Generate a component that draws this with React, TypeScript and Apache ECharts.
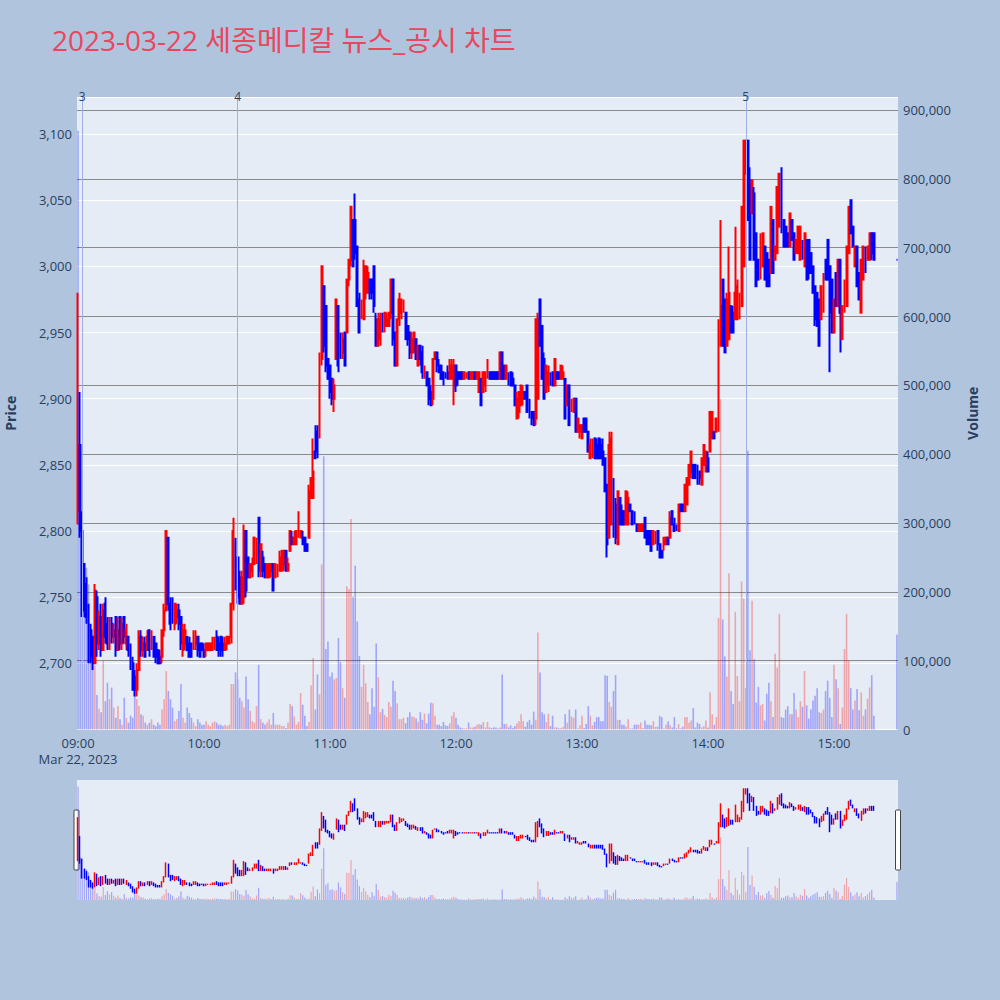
import { useEffect, useRef } from 'react';
import * as echarts from 'echarts';

const TITLE = '2023-03-22 세종메디칼 뉴스_공시 차트';
const DATE_LABEL = 'Mar 22, 2023';
const HOUR_LABELS = ['09:00', '10:00', '11:00', '12:00', '13:00', '14:00', '15:00'];
const EVENT_TIMES = ['09:02', '10:16', '14:18'];
const EVENT_LABELS = ['3', '4', '5'];

// one candle per minute, 09:00 .. 15:19
const opens = [
  2815,2865,2800,2775,2760,2740,2725,2720,2700,2750,
  2715,2735,2710,2745,2730,2715,2730,2720,2735,2710,
  2735,2715,2735,2715,2720,2715,2700,2690,2680,2695,
  2720,2710,2715,2710,2725,2710,2720,2715,2710,2705,
  2705,2725,2740,2795,2745,2740,2730,2735,2740,2735,
  2710,2715,2720,2715,2715,2710,2715,2720,2715,2715,
  2710,2710,2710,2710,2710,2715,2720,2715,2720,2715,
  2710,2715,2715,2720,2745,2795,2780,2765,2745,2750,
  2800,2780,2765,2770,2775,2775,2810,2770,2780,2775,
  2765,2765,2770,2775,2765,2765,2770,2770,2775,2785,
  2770,2785,2795,2790,2790,2795,2795,2795,2795,2790,
  2795,2825,2825,2860,2875,2875,2930,2985,2970,2930,
  2925,2915,2900,2930,2970,2950,2935,2950,2950,2990,
  3005,3035,3035,3015,2975,2960,2960,2980,2980,2990,
  2990,3000,2960,2940,2945,2965,2955,2955,2955,2965,
  2990,2950,2925,2960,2965,2965,2965,2955,2950,2935,
  2935,2945,2925,2940,2935,2920,2920,2915,2905,2900,
  2930,2935,2925,2925,2920,2920,2920,2915,2915,2910,
  2925,2920,2920,2920,2915,2915,2920,2915,2915,2920,
  2915,2905,2915,2905,2910,2915,2920,2920,2920,2920,
  2920,2915,2935,2925,2915,2920,2920,2915,2910,2885,
  2890,2895,2900,2905,2910,2900,2890,2890,2885,2900,
  2975,2955,2930,2905,2910,2920,2920,2910,2920,2920,
  2915,2915,2915,2895,2910,2890,2890,2900,2875,2875,
  2870,2885,2885,2875,2855,2855,2870,2865,2870,2865,
  2860,2855,2835,2795,2805,2840,2820,2790,2825,2815,
  2815,2805,2805,2820,2815,2810,2805,2800,2800,2800,
  2810,2800,2800,2800,2790,2790,2800,2790,2785,2790,
  2790,2795,2795,2815,2805,2805,2800,2820,2820,2815,
  2820,2835,2845,2850,2850,2850,2845,2835,2850,2845,
  2855,2860,2870,2875,2875,2875,2940,2990,2975,2940,
  2945,2970,2965,2960,2960,2960,2970,3000,3070,3095,
  3065,3040,3055,3025,3005,2990,3000,3015,3010,3005,
  2995,3035,3005,3010,3030,3075,3035,3030,3025,3015,
  3035,3025,3010,3010,3005,3020,3000,3020,3020,3010,
  3000,2985,2980,2975,2960,2965,3005,3020,3000,2990,
  2950,2995,2970,3005,2945,2965,2970,3010,3050,3030,
  3000,3015,2995,2965,2990,3015,3005,3005,3025,3025,
];

const closes = [
  2865,2800,2745,2740,2735,2710,2705,2700,2755,2715,
  2735,2710,2740,2720,2715,2730,2720,2725,2710,2725,
  2715,2730,2720,2725,2710,2700,2680,2680,2695,2720,
  2710,2715,2705,2720,2710,2720,2705,2705,2700,2700,
  2725,2740,2800,2745,2730,2730,2745,2740,2730,2715,
  2725,2725,2710,2705,2705,2720,2720,2710,2705,2710,
  2705,2715,2715,2715,2715,2720,2710,2710,2710,2710,
  2715,2720,2720,2745,2800,2760,2750,2745,2765,2800,
  2755,2765,2775,2775,2795,2790,2770,2790,2770,2765,
  2775,2775,2775,2755,2775,2775,2780,2785,2785,2770,
  2775,2800,2790,2795,2800,2800,2800,2790,2785,2785,
  2830,2840,2845,2855,2860,2930,3000,2940,2925,2915,
  2905,2900,2910,2975,2925,2930,2945,2925,2990,3005,
  3045,3000,3010,2970,2950,2975,3000,3000,2995,2980,
  2980,2970,2940,2960,2960,2955,2965,2960,2965,2990,
  2945,2925,2960,2975,2975,2970,2945,2945,2935,2945,
  2950,2930,2940,2930,2920,2925,2910,2900,2895,2930,
  2935,2925,2920,2915,2915,2915,2915,2925,2925,2925,
  2910,2915,2915,2915,2920,2920,2915,2920,2920,2915,
  2920,2920,2895,2920,2920,2930,2915,2915,2915,2915,
  2915,2935,2915,2915,2925,2910,2910,2910,2895,2900,
  2905,2910,2905,2900,2890,2885,2885,2880,2960,2960,
  2940,2915,2900,2925,2920,2910,2910,2930,2915,2915,
  2925,2920,2885,2910,2880,2900,2900,2875,2885,2880,
  2880,2875,2875,2860,2865,2865,2855,2855,2855,2855,
  2850,2830,2790,2865,2870,2795,2795,2830,2805,2805,
  2805,2830,2825,2815,2805,2805,2800,2805,2805,2805,
  2795,2790,2790,2785,2800,2800,2790,2780,2780,2795,
  2795,2790,2810,2805,2800,2800,2820,2815,2815,2835,
  2840,2850,2860,2840,2840,2835,2840,2855,2865,2860,
  2845,2890,2890,2870,2885,2960,2970,2940,2935,2975,
  2980,2950,2950,2980,2985,2975,3045,3095,3095,3035,
  3005,3065,3005,2985,2990,3025,3025,2990,2985,2985,
  3045,2995,3015,3060,3070,3025,3015,3015,3015,3040,
  3020,3005,3020,3030,3030,3005,3025,2990,2995,2995,
  2980,2960,2955,2940,2985,2995,2990,2990,2965,2950,
  2975,2970,3005,2965,2970,2990,3015,3045,3025,3015,
  3015,2985,2975,3005,3015,2995,3015,3025,3010,3005,
];

const highs = [
  2980,2905,2815,2775,2765,2745,2730,2720,2760,2755,
  2740,2745,2745,2750,2735,2735,2735,2730,2735,2735,
  2735,2735,2735,2730,2720,2715,2705,2695,2700,2725,
  2725,2720,2720,2725,2725,2725,2720,2715,2710,2710,
  2725,2745,2800,2795,2750,2750,2745,2745,2745,2735,
  2730,2730,2720,2720,2715,2725,2725,2720,2715,2715,
  2715,2715,2715,2715,2720,2720,2725,2720,2720,2720,
  2720,2720,2720,2745,2810,2795,2780,2770,2770,2805,
  2800,2780,2775,2780,2795,2795,2810,2790,2785,2775,
  2775,2775,2775,2775,2775,2775,2785,2785,2785,2785,
  2780,2800,2800,2800,2800,2815,2800,2800,2795,2790,
  2835,2840,2870,2880,2880,2935,3000,2985,2970,2930,
  2925,2915,2915,2975,2970,2950,2950,2950,2990,3005,
  3045,3035,3055,3015,2980,2975,3005,3000,3000,2990,
  2990,3000,2965,2965,2965,2965,2965,2965,2965,2990,
  2990,2950,2960,2980,2975,2975,2965,2955,2950,2950,
  2950,2945,2940,2940,2940,2925,2920,2915,2910,2930,
  2935,2935,2930,2925,2920,2920,2925,2930,2930,2930,
  2925,2920,2920,2920,2920,2920,2920,2920,2920,2920,
  2920,2920,2915,2920,2920,2930,2920,2920,2920,2920,
  2920,2935,2935,2925,2925,2920,2920,2920,2910,2905,
  2905,2910,2910,2905,2910,2900,2890,2890,2960,2965,
  2975,2955,2935,2925,2925,2920,2920,2930,2920,2920,
  2925,2925,2915,2910,2910,2900,2900,2900,2885,2880,
  2880,2885,2885,2875,2870,2870,2870,2870,2870,2870,
  2870,2855,2835,2875,2875,2840,2825,2830,2825,2820,
  2815,2830,2830,2820,2815,2815,2805,2805,2805,2805,
  2810,2800,2800,2800,2800,2800,2800,2790,2785,2795,
  2795,2795,2815,2815,2810,2805,2820,2820,2820,2835,
  2840,2850,2860,2850,2850,2850,2845,2855,2865,2860,
  2860,2890,2890,2875,2885,2960,3035,2990,2975,2980,
  3015,2970,2970,3030,2990,2980,3045,3095,3095,3095,
  3075,3065,3060,3025,3005,3025,3025,3015,3010,3005,
  3045,3035,3015,3060,3070,3075,3035,3030,3025,3040,
  3035,3025,3020,3030,3030,3020,3025,3020,3020,3010,
  3000,2985,2980,2975,2985,2995,3005,3020,3000,2990,
  2975,2995,3005,3005,2970,2990,3015,3045,3050,3030,
  3015,3015,2995,3005,3015,3015,3015,3025,3025,3025,
];

const lows = [
  2805,2795,2735,2735,2730,2700,2700,2695,2700,2705,
  2710,2705,2710,2715,2710,2710,2715,2715,2705,2710,
  2710,2710,2715,2710,2705,2695,2680,2675,2675,2695,
  2705,2705,2705,2710,2705,2710,2705,2700,2700,2700,
  2700,2720,2740,2740,2725,2730,2725,2730,2725,2710,
  2705,2710,2710,2705,2705,2710,2710,2705,2705,2710,
  2705,2705,2710,2710,2710,2710,2710,2705,2705,2705,
  2710,2710,2715,2715,2740,2755,2745,2745,2745,2745,
  2750,2765,2765,2765,2775,2775,2765,2765,2765,2765,
  2765,2765,2765,2755,2765,2765,2770,2770,2770,2770,
  2770,2785,2790,2790,2790,2795,2795,2790,2785,2785,
  2795,2825,2825,2855,2855,2870,2925,2935,2920,2915,
  2900,2895,2890,2930,2920,2930,2930,2925,2950,2985,
  3000,3000,3005,2970,2950,2960,2960,2975,2980,2975,
  2975,2965,2940,2940,2940,2950,2950,2955,2955,2960,
  2940,2925,2925,2955,2960,2965,2945,2940,2930,2930,
  2935,2930,2925,2925,2915,2915,2910,2895,2895,2895,
  2930,2920,2920,2915,2910,2915,2915,2915,2915,2895,
  2905,2910,2915,2915,2915,2915,2915,2915,2915,2915,
  2915,2905,2895,2905,2905,2915,2915,2915,2915,2915,
  2915,2915,2915,2915,2915,2910,2910,2910,2895,2885,
  2885,2895,2895,2900,2890,2885,2880,2880,2880,2900,
  2940,2915,2900,2905,2905,2910,2910,2910,2915,2915,
  2915,2915,2885,2895,2880,2890,2890,2875,2875,2870,
  2870,2875,2875,2860,2855,2855,2855,2855,2855,2855,
  2850,2830,2780,2795,2805,2795,2790,2790,2805,2805,
  2805,2805,2805,2815,2805,2805,2800,2800,2800,2800,
  2795,2790,2790,2785,2790,2790,2785,2780,2780,2785,
  2790,2790,2795,2805,2800,2800,2800,2815,2815,2815,
  2820,2835,2840,2840,2840,2835,2835,2835,2850,2845,
  2845,2860,2870,2870,2875,2875,2940,2940,2935,2940,
  2945,2950,2950,2960,2960,2960,2970,3000,3070,3035,
  3005,3040,3005,2985,2990,2990,3000,2990,2985,2985,
  2995,2995,3005,3010,3030,3025,3015,3015,3015,3015,
  3020,3005,3010,3010,3005,3005,3000,2990,2990,2995,
  2980,2955,2955,2940,2960,2965,2990,2990,2920,2950,
  2950,2970,2970,2935,2945,2965,2970,3010,3025,3015,
  3000,2985,2975,2965,2990,2995,3005,3005,3005,3005,
];

const volumes = [
  870000,330000,315000,235000,235000,211000,152000,92000,93000,50000,
  30000,25000,100000,41000,68000,44000,61000,32000,17000,34000,
  15000,7000,46000,17000,10000,20000,17000,66000,44000,34000,
  22000,20000,10000,7000,10000,15000,7000,5000,10000,7000,
  29000,44000,85000,56000,44000,32000,12000,15000,27000,66000,
  17000,10000,32000,24000,17000,10000,5000,15000,10000,7000,
  7000,12000,7000,5000,10000,12000,10000,7000,7000,5000,
  7000,5000,7000,66000,66000,83000,73000,46000,41000,32000,
  77000,44000,27000,12000,10000,34000,94000,15000,10000,7000,
  10000,15000,7000,24000,7000,7000,7000,5000,5000,2000,
  10000,37000,34000,19000,7000,11000,53000,36000,20000,5000,
  11000,64000,104000,29000,80000,51000,240000,397000,117000,128000,
  77000,83000,73000,75000,133000,98000,60000,46000,208000,204000,
  306000,193000,238000,157000,107000,62000,94000,67000,40000,22000,
  60000,33000,125000,76000,25000,30000,21000,18000,40000,33000,
  71000,56000,38000,15000,15000,17000,9000,18000,25000,19000,
  18000,16000,11000,25000,14000,23000,9000,23000,39000,38000,
  20000,7000,7000,5000,11000,6000,5000,9000,20000,25000,
  17000,7000,3000,2000,1500,1500,10000,3000,3000,4000,
  7000,8000,7000,11000,3000,11000,3000,2000,3000,3000,
  1500,3000,80000,8000,8000,3000,6000,2000,5000,9000,
  12000,22000,12000,4000,11000,14000,7000,26000,14000,141000,
  83000,25000,22000,11000,23000,5000,20000,3000,3000,1500,
  2000,4000,22000,10000,29000,19000,17000,29000,1500,6000,
  20000,2000,8000,34000,20000,6000,11000,18000,18000,12000,
  12000,79000,78000,40000,33000,56000,79000,14000,14000,7000,
  7000,4000,15000,1500,1500,7000,7000,7000,10000,2000,
  13000,7000,7000,6000,12000,4000,4000,20000,18000,1500,
  7000,12000,6000,3000,18000,1500,8000,1500,4000,18000,
  18000,10000,13000,31000,3000,10000,8000,3000,5000,13000,
  3000,54000,22000,7000,18000,162000,480000,160000,106000,77000,
  227000,56000,37000,171000,78000,41000,215000,190000,60000,405000,
  115000,187000,102000,39000,62000,35000,37000,13000,52000,68000,
  41000,18000,110000,90000,168000,18000,17000,29000,34000,22000,
  22000,53000,29000,18000,41000,33000,85000,35000,16000,29000,
  42000,49000,60000,25000,24000,29000,56000,71000,46000,18000,
  94000,73000,60000,8000,32000,117000,168000,100000,60000,29000,
  42000,59000,28000,54000,20000,29000,45000,61000,79000,20000,
];

// closing auction single print at 15:30
const auctionTime = '15:30';
const auctionPrice = 3005;
const auctionVolume = 138000;

const PRICE_MIN = 2650;
const PRICE_MAX = 3128;
const VOL_MAX = 919000;

const UP = '#ff0000';
const DOWN = '#0000ff';
const UP_VOL = 'rgba(255,0,0,0.3)';
const DOWN_VOL = 'rgba(0,0,255,0.3)';
const FONT = '"Open Sans", "Noto Sans CJK KR", sans-serif';
const AXIS_TEXT = '#2a3f5f';

function buildTimes(): string[] {
  const out: string[] = [];
  for (let t = 9 * 60; t <= 15 * 60 + 30; t++) {
    const h = Math.floor(t / 60);
    const m = t % 60;
    out.push(`${String(h).padStart(2, '0')}:${String(m).padStart(2, '0')}`);
  }
  return out;
}

export default function App() {
  const ref = useRef<HTMLDivElement>(null);

  useEffect(() => {
    document.body.style.margin = '0';
    if (!ref.current) return;
    const chart = echarts.init(ref.current, undefined, { renderer: 'svg' });

    const times = buildTimes();
    const candleData: any[] = [];
    const volData: any[] = [];
    times.forEach((t, i) => {
      if (i < opens.length) {
        const o = opens[i], c = closes[i];
        const h = Math.max(highs[i], o, c);
        const l = Math.min(lows[i], o, c);
        candleData.push([o, c, l, h]);
        const up = i > 0 && c >= o;
        volData.push({ value: volumes[i], itemStyle: { color: up ? UP_VOL : DOWN_VOL } });
      } else if (t === auctionTime) {
        candleData.push({
          value: [auctionPrice, auctionPrice, auctionPrice, auctionPrice],
          itemStyle: { color: DOWN, color0: DOWN, borderColor: DOWN, borderColor0: DOWN },
        });
        volData.push({ value: auctionVolume, itemStyle: { color: DOWN_VOL } });
      } else {
        candleData.push('-');
        volData.push('-');
      }
    });

    const gridLeft = 77;
    const gridRight = 102;
    const gridRightX = 1000 - gridRight;

    const option: any = {
      animation: false,
      backgroundColor: '#b0c4de',
      textStyle: { fontFamily: FONT },
      title: {
        text: TITLE,
        left: 47,
        top: 21,
        textStyle: { color: '#e8475f', fontSize: 28, fontWeight: 'normal', fontFamily: FONT },
      },
      grid: [
        {
          left: gridLeft, right: gridRight, top: 97, height: 632.5,
          containLabel: false, outerBoundsMode: 'none',
          show: true, backgroundColor: '#e5ecf6', borderWidth: 0,
        },
        {
          left: gridLeft, right: gridRight, top: 780, height: 120,
          containLabel: false, outerBoundsMode: 'none',
          show: true, backgroundColor: '#e5ecf6', borderWidth: 0,
        },
      ],
      xAxis: [
        {
          type: 'category',
          gridIndex: 0,
          data: times,
          boundaryGap: true,
          axisLine: { show: false },
          axisTick: { show: false },
          splitLine: { show: false },
          axisLabel: {
            interval: (_i: number, v: string) => HOUR_LABELS.includes(v),
            formatter: (v: string, i: number) => (i === 0 ? `${v}\n${DATE_LABEL}` : v),
            color: AXIS_TEXT,
            fontSize: 13,
            margin: 5,
            lineHeight: 16,
            fontFamily: FONT,
          },
        },
        { type: 'category', gridIndex: 1, data: times, boundaryGap: true, show: false },
      ],
      yAxis: [
        {
          type: 'value',
          gridIndex: 0,
          position: 'left',
          min: PRICE_MIN,
          max: PRICE_MAX,
          interval: 50,
          name: 'Price',
          nameLocation: 'middle',
          nameGap: 60,
          nameRotate: 90,
          nameTextStyle: { color: AXIS_TEXT, fontSize: 14, fontWeight: 'bold', fontFamily: FONT },
          axisLine: { show: false },
          axisTick: { show: false },
          axisLabel: {
            formatter: (v: number) => v.toLocaleString('en-US'),
            showMinLabel: false,
            showMaxLabel: false,
            color: AXIS_TEXT,
            fontSize: 13,
            margin: 5,
          },
          splitLine: { show: true, lineStyle: { color: '#ffffff', width: 1 } },
        },
        {
          type: 'value',
          gridIndex: 0,
          position: 'right',
          min: 0,
          max: VOL_MAX,
          interval: 100000,
          name: 'Volume',
          nameLocation: 'middle',
          nameGap: 67,
          nameRotate: 90,
          nameTextStyle: { color: AXIS_TEXT, fontSize: 14, fontWeight: 'bold', fontFamily: FONT },
          axisLine: { show: false },
          axisTick: { show: false },
          axisLabel: {
            formatter: (v: number) => v.toLocaleString('en-US'),
            showMaxLabel: false,
            color: AXIS_TEXT,
            fontSize: 13,
            margin: 5,
          },
          splitLine: { show: true, showMinLine: false, showMaxLine: false, lineStyle: { color: '#8a8a8a', width: 1 } },
        },
        { type: 'value', gridIndex: 1, min: PRICE_MIN, max: PRICE_MAX, show: false, splitLine: { show: false } },
        { type: 'value', gridIndex: 1, min: 0, max: VOL_MAX, show: false, splitLine: { show: false } },
      ],
      series: [
        {
          type: 'bar',
          name: 'Volume',
          xAxisIndex: 0,
          yAxisIndex: 1,
          data: volData,
          barWidth: 1.6,
          silent: true,
        },
        {
          type: 'candlestick',
          name: 'Price',
          xAxisIndex: 0,
          yAxisIndex: 0,
          data: candleData,
          barWidth: 1.4,
          silent: true,
          itemStyle: { color: UP, color0: DOWN, borderColor: UP, borderColor0: DOWN, borderWidth: 2 },
          markLine: {
            silent: true,
            symbol: ['none', 'none'],
            lineStyle: { color: '#9db0e8', width: 1, type: 'solid' },
            label: { show: true, position: 'end', distance: -5, color: AXIS_TEXT, fontSize: 12 },
            data: EVENT_TIMES.map((t, k) => ({ xAxis: t, label: { formatter: EVENT_LABELS[k] } })),
          },
        },
        {
          type: 'bar',
          xAxisIndex: 1,
          yAxisIndex: 3,
          data: volData,
          barWidth: 1.2,
          silent: true,
        },
        {
          type: 'candlestick',
          xAxisIndex: 1,
          yAxisIndex: 2,
          data: candleData,
          barWidth: 0.8,
          silent: true,
          itemStyle: { color: UP, color0: DOWN, borderColor: UP, borderColor0: DOWN, borderWidth: 1.5 },
        },
      ],
      graphic: [
        {
          type: 'rect',
          shape: { x: gridLeft - 3, y: 810, width: 5, height: 60, r: 1 },
          style: { fill: '#ffffff', stroke: '#444444', lineWidth: 1 },
          silent: true,
        },
        {
          type: 'rect',
          shape: { x: gridRightX - 2.5, y: 810, width: 5, height: 60, r: 1 },
          style: { fill: '#ffffff', stroke: '#444444', lineWidth: 1 },
          silent: true,
        },
      ],
    };

    chart.setOption(option);
    return () => chart.dispose();
  }, []);

  return <div ref={ref} style={{ width: 1000, height: 1000 }} />;
}
